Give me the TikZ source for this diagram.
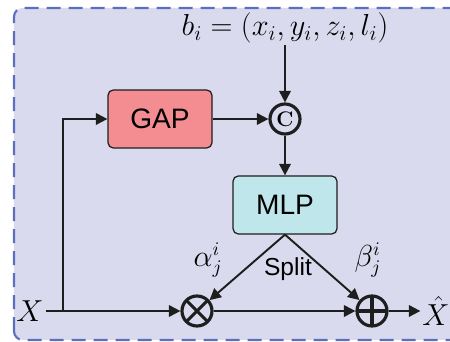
\documentclass[tikz,border=0pt]{standalone}
\usepackage{amsmath}
\usepackage{fontspec}
\setsansfont{Liberation Sans}
\usetikzlibrary{arrows.meta, positioning, calc}
\definecolor{mybg}{RGB}{218,218,238}
\definecolor{myborder}{RGB}{92,110,190}
\definecolor{mydark}{RGB}{30,30,30}
\definecolor{hdrred}{RGB}{243,141,146}
\definecolor{hdrteal}{RGB}{190,230,235}
\tikzset{
  block/.style={rectangle, draw=mydark, fill=hdrteal,
    minimum width=2.08cm, minimum height=1.16cm,
    font=\sffamily\fontsize{16}{19}\selectfont, rounded corners=3pt, line width=0.7pt},
  redblock/.style={block, fill=hdrred},
  opnode/.style={circle, draw=mydark, minimum size=0.6cm, inner sep=0pt,
    line width=1.8pt},
  mulop/.style={opnode, path picture={
    \draw[line width=1.8pt, color=mydark]
      ($(path picture bounding box.center)+(45:0.32)$) -- ($(path picture bounding box.center)+(225:0.32)$)
      ($(path picture bounding box.center)+(135:0.32)$) -- ($(path picture bounding box.center)+(315:0.32)$);}},
  addop/.style={opnode, path picture={
    \draw[line width=1.8pt, color=mydark]
      (path picture bounding box.north) -- (path picture bounding box.south)
      (path picture bounding box.west) -- (path picture bounding box.east);}},
  mathlbl/.style={inner sep=1pt, font=\fontsize{16}{19}\selectfont},
  arrow/.style={-{Triangle[length=6.5pt, width=6.5pt]}, line width=1.1pt, color=mydark},
  line/.style={line width=1.1pt, color=mydark}
}

\begin{document}
\begin{tikzpicture}
  \useasboundingbox (0,0) rectangle (9,6.84);
  % ── Background panel ───────────────────────────────────────────────────────
  \draw[fill=mybg, draw=myborder, line width=1.2pt, rounded corners=5pt,
    dash pattern=on 0.28cm off 0.16cm] (0.28,0.04) rectangle (9.3,6.68);

  % ── Blocks and operators ──────────────────────────────────────────────────
  \node[redblock] (gap) at (3.2,4.46) {GAP};
  \node[opnode] (cat) at (5.7,4.46) {\fontsize{12}{14}\selectfont\bfseries C};
  \node[block] (mlp) at (5.7,2.74) {MLP};
  \node[mulop] (mul) at (3.94,0.62) {};
  \node[addop] (add) at (7.44,0.62) {};

  % ── Inputs and output ─────────────────────────────────────────────────────
  \node[mathlbl] (xin) at (0.6,0.62) {$X$};
  \node[mathlbl] (xout) at (8.72,0.62) {$\hat{X}$};
  \node[mathlbl, font=\fontsize{17}{20}\selectfont] (box) at (5.7,6.28) {$b_i = (x_i, y_i, z_i, l_i)$};
  \coordinate (br) at (1.26,0.62);

  % ── Connectors ────────────────────────────────────────────────────────────
  \draw[arrow] (box) -- (cat);
  \draw[arrow] (gap) -- (cat);
  \draw[arrow] (cat) -- (mlp);
  \draw[arrow] (xin) -- (mul);
  \draw[arrow] (br) |- (gap);
  \draw[arrow] (mul) -- (add);
  \draw[arrow] (add) -- (xout);
  \draw[arrow] (mlp.south) -- (mul);
  \draw[arrow] (mlp.south) -- (add);

  % ── Labels ────────────────────────────────────────────────────────────────
  \node[mathlbl] (alpha) at (4.16,1.64) {$\alpha_j^i$};
  \node[mathlbl] (beta) at (7.36,1.64) {$\beta_j^i$};
  \node[font=\sffamily\fontsize{14}{16}\selectfont] (split) at (5.76,1.46) {Split};
\end{tikzpicture}
\end{document}
